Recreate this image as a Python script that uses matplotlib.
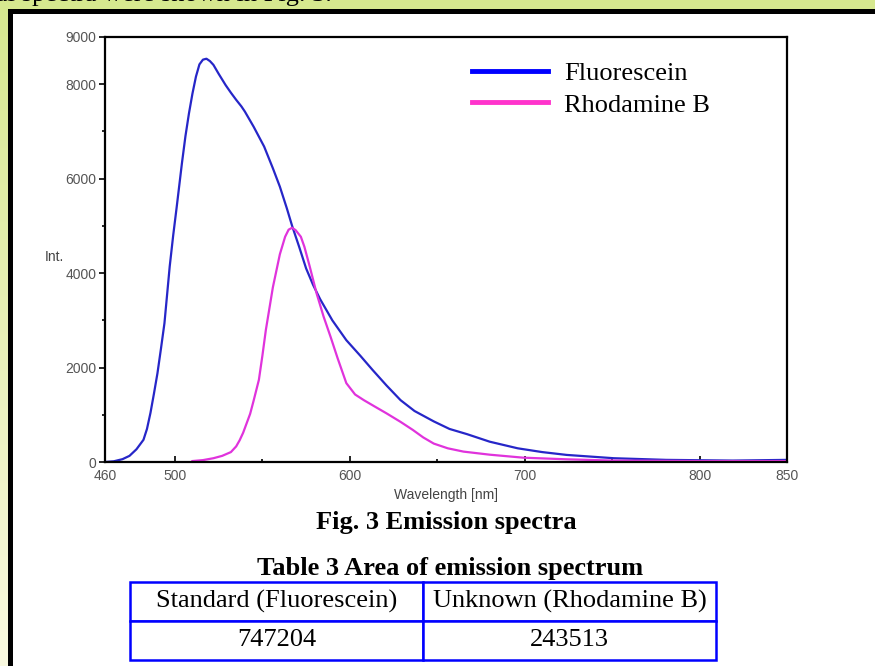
import matplotlib
matplotlib.use("Agg")
import matplotlib.pyplot as plt
import numpy as np
from matplotlib.lines import Line2D
from matplotlib.patches import Rectangle
from matplotlib.ticker import FixedLocator, MultipleLocator

# values
wl_fluor = [460, 465, 470, 474, 478, 482, 484, 486, 488, 490, 492, 494, 497,
            499, 501, 504, 506, 508, 510, 512, 514, 516, 518, 520, 522, 525,
            529, 532, 535, 538, 540, 545, 551, 556, 560, 564, 567, 571, 575,
            579, 583, 590, 598, 606, 613, 621, 629, 637, 648, 657, 667, 680,
            696, 710, 724, 751, 781, 819, 850]
int_fluor = [0, 15, 60, 130, 270, 470, 700, 1040, 1450, 1880, 2400, 2940,
             4140, 4800, 5400, 6330, 6900, 7380, 7800, 8160, 8420, 8520, 8540,
             8490, 8410, 8220, 7980, 7820, 7670, 7530, 7420, 7100, 6680, 6220,
             5830, 5370, 5000, 4560, 4100, 3750, 3450, 3000, 2580, 2250, 1950,
             1620, 1310, 1080, 860, 700, 590, 430, 290, 210, 150, 80, 45, 30,
             45]

wl_rhod = [510, 516, 522, 527, 532, 535, 537, 539, 541, 543, 545, 548, 550,
           552, 554, 556, 558, 560, 563, 565, 567, 569, 572, 574, 577, 581,
           585, 589, 593, 598, 603, 608, 614, 621, 629, 636, 642, 648, 656,
           665, 680, 699, 724, 751, 800, 850]
int_rhod = [20, 40, 80, 130, 210, 330, 460, 620, 820, 1020, 1300, 1740, 2250,
            2800, 3250, 3700, 4050, 4400, 4770, 4920, 4960, 4910, 4770, 4560,
            4150, 3570, 3080, 2650, 2200, 1670, 1430, 1310, 1180, 1030, 850,
            680, 520, 390, 290, 220, 155, 92, 57, 30, 20, 20]

series_names = ["Fluorescein", "Rhodamine B"]
x_tick_labels = [460, 500, 600, 700, 800, 850]
y_tick_labels = [0, 2000, 4000, 6000, 8000, 9000]

table_header = ["Standard (Fluorescein)", "Unknown (Rhodamine B)"]
table_values = ["747204", "243513"]

W, H = 875, 666
serif = ["Liberation Serif", "DejaVu Serif"]
sans = ["Liberation Sans", "DejaVu Sans"]

fig = plt.figure(figsize=(W / 100, H / 100), dpi=100)

# page background and the black frame of the figure box
bg = fig.add_axes([0, 0, 1, 1], zorder=-10)
grad = np.linspace(0, 1, 256)[:, None]
top_col = np.array([0.84, 0.91, 0.56])
bot_col = np.array([0.98, 0.98, 0.88])
img = top_col[None, None, :] * (1 - grad[..., None]) + bot_col[None, None, :] * grad[..., None]
bg.imshow(img, extent=[0, W, H, 0], aspect="auto")
bg.add_patch(Rectangle((9.5, 11), W + 50, H + 50, facecolor="white",
                       edgecolor="black", linewidth=3.6))
bg.set_xlim(0, W)
bg.set_ylim(H, 0)
bg.axis("off")

fig.text(-0.005, 1 - 1 / H, "al spectra were shown in Fig. 3.", family=serif,
         fontsize=19, va="baseline", ha="left")

# main spectrum plot
ax = fig.add_axes([105 / W, 1 - 462 / H, 682 / W, 425 / H])
ax.plot(wl_fluor, int_fluor, color="#2626c8", linewidth=1.6)
ax.plot(wl_rhod, int_rhod, color="#e033dc", linewidth=1.6)

ax.set_xlim(460, 850)
ax.set_ylim(0, 9000)
ax.xaxis.set_major_locator(FixedLocator(x_tick_labels))
ax.xaxis.set_minor_locator(FixedLocator([550, 650, 750]))
ax.yaxis.set_major_locator(FixedLocator(y_tick_labels))
ax.yaxis.set_minor_locator(MultipleLocator(1000))
ax.tick_params(axis="x", which="both", direction="in", colors="black",
               labelcolor="#555555", labelsize=10, pad=5)
ax.tick_params(axis="y", which="both", direction="out", colors="black",
               labelcolor="#555555", labelsize=10, pad=2)
ax.tick_params(which="major", length=4, width=1.2)
ax.tick_params(which="minor", length=2, width=1.2)
for lab in ax.get_xticklabels() + ax.get_yticklabels():
    lab.set_family(sans)
for sp in ax.spines.values():
    sp.set_linewidth(1.6)
ax.set_xlabel("Wavelength [nm]", family=sans, fontsize=10, color="#444444",
              labelpad=4)
ax.text(-0.088, 0.465, "Int.", transform=ax.transAxes, family=sans,
        fontsize=10, color="#444444", ha="left", va="bottom")

handles = [Line2D([], [], color="#0000ff", linewidth=3.5),
           Line2D([], [], color="#ff33cc", linewidth=3.5)]
ax.legend(handles, series_names, loc="upper left",
          bbox_to_anchor=(0.538, 0.942), frameon=False, borderpad=0,
          borderaxespad=0, handlelength=2.9, handletextpad=0.6,
          labelspacing=0.3, prop={"family": serif, "size": 19})

# caption and table underneath
fig.text(446 / W, 1 - 522 / H, "Fig. 3 Emission spectra", family=serif,
         fontsize=19, weight="bold", ha="center", va="center")
fig.text(450 / W, 1 - 568 / H, "Table 3 Area of emission spectrum",
         family=serif, fontsize=19, weight="bold", ha="center", va="center")

tax = fig.add_axes([130 / W, 1 - 660 / H, 586 / W, 78 / H])
tax.axis("off")
tbl = tax.table(cellText=[table_header, table_values], cellLoc="center",
                bbox=[0, 0, 1, 1])
tbl.auto_set_font_size(False)
tbl.set_fontsize(19)
for cell in tbl.get_celld().values():
    cell.set_edgecolor("#0000ff")
    cell.set_linewidth(1.8)
    cell.get_text().set_family(serif)

fig.savefig("out.png", dpi=100)
